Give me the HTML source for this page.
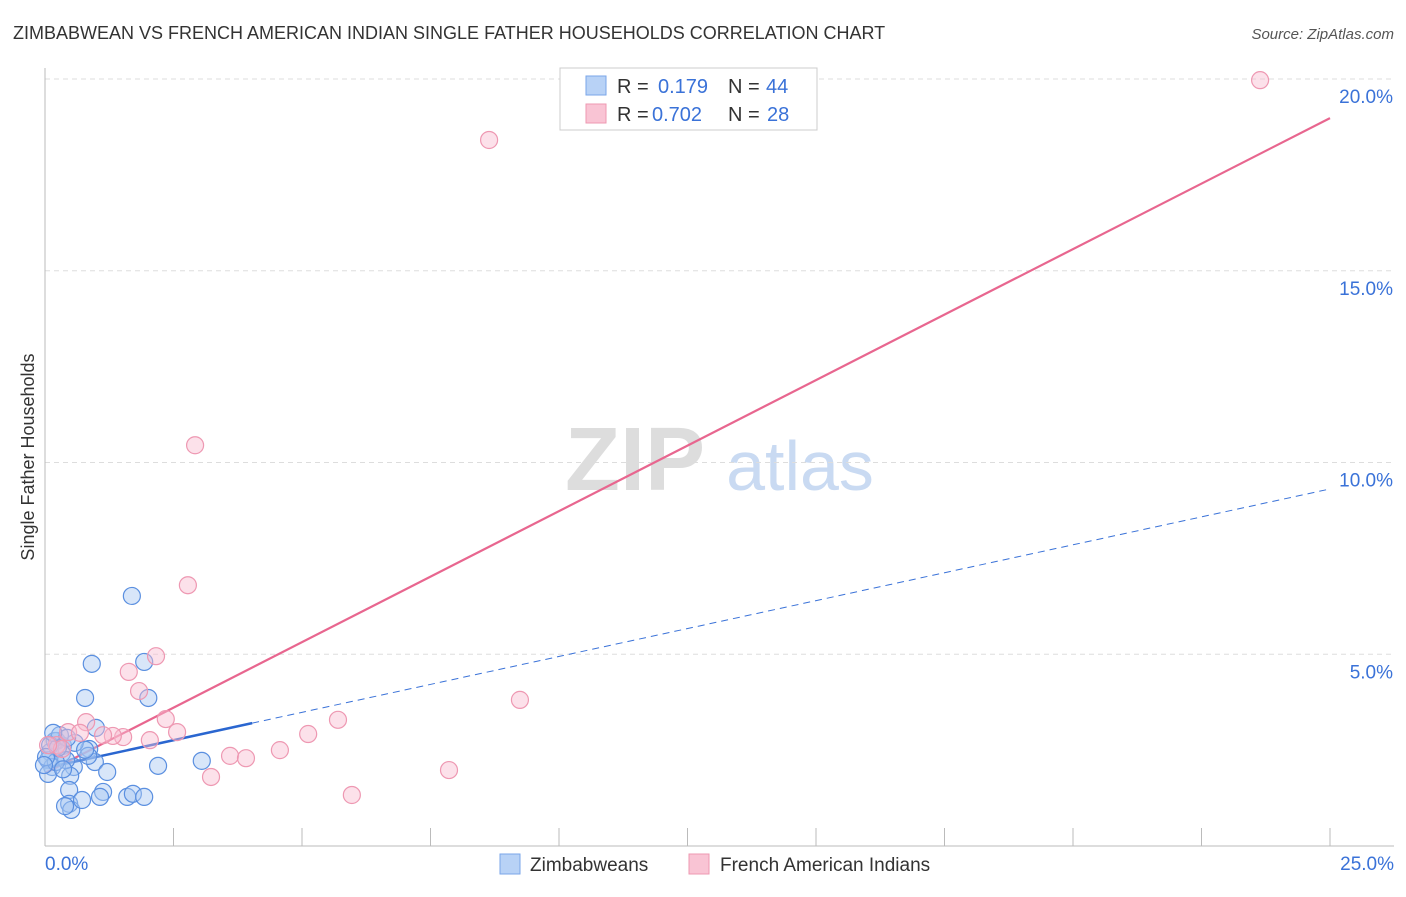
<!DOCTYPE html>
<html><head><meta charset="utf-8"><style>
body{margin:0;background:#fff;font-family:"Liberation Sans",sans-serif;}
svg text{font-family:"Liberation Sans",sans-serif;}
</style></head><body>
<svg id="chart" width="1406" height="892" xmlns="http://www.w3.org/2000/svg">
<text x="13" y="39" font-size="18" fill="#333">ZIMBABWEAN VS FRENCH AMERICAN INDIAN SINGLE FATHER HOUSEHOLDS CORRELATION CHART</text>
<text x="1394" y="39" font-size="15" fill="#555" text-anchor="end" font-style="italic">Source: ZipAtlas.com</text>
<text transform="translate(34,457) rotate(-90)" font-size="18" fill="#333" text-anchor="middle">Single Father Households</text>
<g>
<text x="635" y="490" font-size="90" fill="#ddd" text-anchor="middle" font-family="Liberation Serif" font-weight="bold">ZIP</text>
<text x="800" y="490" font-size="70" fill="#c9daf2" text-anchor="middle">atlas</text>
</g>
<g id="grid"></g><g id="axes"></g><g id="lines"></g><g id="pts"></g>
<g>
<rect x="560" y="68" width="257" height="62" fill="#fff" stroke="#ccc"/>
<rect x="586" y="76" width="20" height="19" fill="#b8d2f6" stroke="#7aa6e8"/>
<rect x="586" y="104" width="20" height="19" fill="#f9c4d4" stroke="#ee98b2"/>
<text x="617" y="93" font-size="20" fill="#333">R = </text><text x="658" y="93" font-size="20" fill="#3a72d8">0.179</text>
<text x="728" y="93" font-size="20" fill="#333">N = </text><text x="766" y="93" font-size="20" fill="#3a72d8">44</text>
<text x="617" y="121" font-size="20" fill="#333">R = </text><text x="652" y="121" font-size="20" fill="#3a72d8">0.702</text>
<text x="728" y="121" font-size="20" fill="#333">N = </text><text x="767" y="121" font-size="20" fill="#3a72d8">28</text>
</g>
<g>
<rect x="500" y="854" width="20" height="20" fill="#b8d2f6" stroke="#7aa6e8"/>
<text x="530" y="871" font-size="19" fill="#333">Zimbabweans</text>
<rect x="689" y="854" width="20" height="20" fill="#f9c4d4" stroke="#ee98b2"/>
<text x="720" y="871" font-size="19" fill="#333">French American Indians</text>
</g>
</svg>
<script>
const xTicks=[0,2.5,5,7.5,10,12.5,15,17.5,20,22.5,25];
const yTicks=[5,10,15,20];
const yTickLabels=["5.0%","10.0%","15.0%","20.0%"];
const blueX=[1.69,0.91,1.93,0.78,2.01,0.99,0.86,0.97,1.21,0.56,0.49,0.35,0.23,0.10,0.06,0.14,0.06,0.19,0.33,0.41,1.13,0.47,0.47,0.51,0.39,0.72,1.07,1.60,1.71,1.93,2.20,3.05,0.58,0.84,0.21,0.29,0.43,0.78,0.10,0.25,0.02,0.16,0.35,-0.02];
const blueY=[6.52,4.75,4.80,3.86,3.86,3.08,2.53,2.19,1.93,2.06,1.83,2.61,2.74,2.45,2.24,2.06,1.88,2.74,2.42,2.24,1.41,1.46,1.10,0.94,1.04,1.20,1.28,1.28,1.36,1.28,2.09,2.22,2.69,2.35,2.19,2.89,2.82,2.51,2.63,2.56,2.32,2.95,2.00,2.11];
const pinkX=[23.64,8.64,2.92,2.78,2.16,1.63,1.83,9.24,2.35,5.70,0.80,2.57,0.45,5.12,1.52,1.32,1.13,2.04,0.68,4.57,3.60,3.91,7.86,3.23,5.97,0.23,0.33,0.06];
const pinkY=[19.97,18.41,10.45,6.80,4.95,4.54,4.04,3.81,3.31,3.29,3.23,2.97,2.97,2.92,2.84,2.87,2.89,2.76,2.95,2.50,2.35,2.29,1.98,1.80,1.33,2.63,2.53,2.63];
const pinkTrend=[1.90,18.98];
const blueTrend=[2.03,9.31];
const blueSolidEnd=4.03;
const NS="http://www.w3.org/2000/svg";
const X=v=>45+v*51.4, Y=v=>846-v*38.35;
function mk(p,t,a){const e=document.createElementNS(NS,t);for(const k in a)e.setAttribute(k,a[k]);document.getElementById(p).appendChild(e);return e;}
yTicks.forEach((t,i)=>{
 const g=mk('grid','line',{x1:45,x2:1394,y1:Y(t),y2:Y(t),stroke:'#ddd','stroke-dasharray':'5,4'});
 
 
 const l=mk('axes','text',{x:1393,y:Y(t)+24,'font-size':19,fill:'#3a72d8','text-anchor':'end'});
 l.textContent=yTickLabels[i];
 
 
});
const ax=mk('axes','line',{x1:45,x2:45,y1:68,y2:846,stroke:'#bbb'});


const bx=mk('axes','line',{x1:45,x2:1394,y1:846,y2:846,stroke:'#bbb'});


xTicks.forEach(t=>{const k=mk('axes','line',{x1:X(t),x2:X(t),y1:828,y2:846,stroke:'#bbb'});
 
 });
const x0=mk('axes','text',{x:45,y:870,'font-size':19,fill:'#3a72d8'});x0.textContent='0.0%';


const x1=mk('axes','text',{x:1394,y:870,'font-size':19,fill:'#3a72d8','text-anchor':'end'});x1.textContent='25.0%';


function drawPts(xs,ys,fill,stroke,name){xs.forEach((x,i)=>{const c=mk('pts','circle',{cx:X(x),cy:Y(ys[i]),r:8.5,fill:fill,'fill-opacity':0.45,stroke:stroke,'stroke-width':1.2});
 
 });}
drawPts(blueX,blueY,'#a9c8f2','#5a8fe0','zimbabwean-point');
drawPts(pinkX,pinkY,'#f8bcd0','#ee98b2','french-american-indian-point');
const bt=v=>blueTrend[0]+(blueTrend[1]-blueTrend[0])*v/25;
const pl=mk('lines','line',{x1:X(0),y1:Y(pinkTrend[0]),x2:X(25),y2:Y(pinkTrend[1]),stroke:'#e8668f','stroke-width':2.2});


const bd=mk('lines','line',{x1:X(blueSolidEnd),y1:Y(bt(blueSolidEnd)),x2:X(25),y2:Y(bt(25)),stroke:'#3a72d8','stroke-width':1,'stroke-dasharray':'7,5'});


const bs=mk('lines','line',{x1:X(0),y1:Y(bt(0)),x2:X(blueSolidEnd),y2:Y(bt(blueSolidEnd)),stroke:'#2a66d0','stroke-width':2.5});


</script>
</body></html>
